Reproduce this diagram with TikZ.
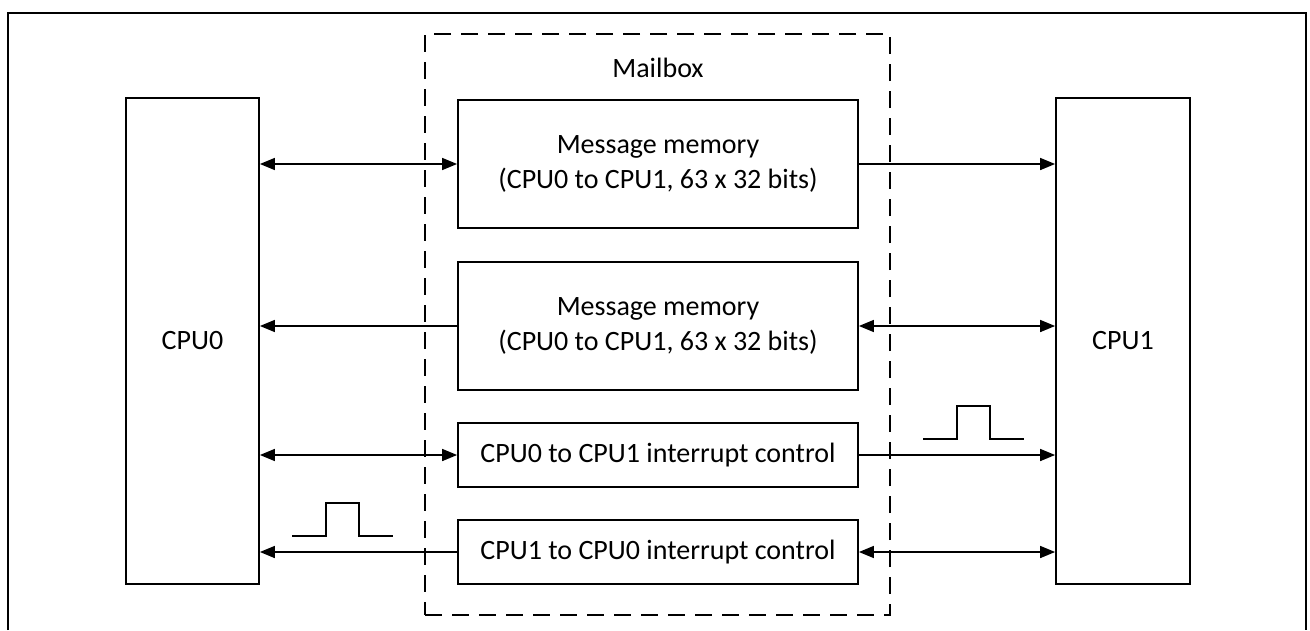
\documentclass[tikz,border=0pt]{standalone}
\usepackage{fontspec}
\setmainfont{Carlito}
\usetikzlibrary{arrows.meta}
\tikzset{
  blk/.style={draw, line width=1.8pt, rectangle, inner sep=0pt, align=center, font=\fontsize{28}{35}\selectfont},
  mbox/.style={draw, line width=1.8pt, dash pattern=on 17pt off 10pt, rectangle, inner sep=0pt},
  conn/.style={line width=1.6pt, arrows={-}, >={Triangle[length=15pt,width=12pt]}},
  pulse/.style={line width=1.8pt},
  frame/.style={line width=2.2pt}
}
\begin{document}
\begin{tikzpicture}[x=1pt,y=-1pt]
\useasboundingbox (0,0) rectangle (1310,630);
% outer frame (open at bottom)
\draw[frame] (8,630) -- (8,13) -- (1306,13) -- (1306,630);
% mailbox
\node[mbox, minimum width=465pt, minimum height=581pt] (mb) at (657.5,324.5) {};
\node[font=\fontsize{28}{35}\selectfont] (mblabel) at (658,68) {Mailbox};
% CPUs
\node[blk, minimum width=133pt, minimum height=486pt] (cpu0) at (192.5,341) {CPU0};
\node[blk, minimum width=134pt, minimum height=486pt] (cpu1) at (1123,341) {CPU1};
% blocks
\node[blk, minimum width=400pt, minimum height=128pt] (mm1) at (658,164) {Message memory\\(CPU0 to CPU1, 63 x 32 bits)};
\node[blk, minimum width=400pt, minimum height=128pt] (mm2) at (658,326) {Message memory\\(CPU0 to CPU1, 63 x 32 bits)};
\node[blk, minimum width=400pt, minimum height=64pt] (int1) at (658,455) {CPU0 to CPU1 interrupt control};
\node[blk, minimum width=400pt, minimum height=64pt] (int2) at (658,552) {CPU1 to CPU0 interrupt control};
% connectors
\draw[conn,<->] (cpu0.east |- mm1.west) -- (mm1.west);
\draw[conn,->] (mm1.east) -- (cpu1.west |- mm1.east);
\draw[conn,->] (mm2.west) -- (cpu0.east |- mm2.west);
\draw[conn,<->] (cpu1.west |- mm2.east) -- (mm2.east);
\draw[conn,<->] (cpu0.east |- int1.west) -- (int1.west);
\draw[conn,->] (int1.east) -- (cpu1.west |- int1.east);
\draw[conn,->] (int2.west) -- (cpu0.east |- int2.west);
\draw[conn,<->] (cpu1.west |- int2.east) -- (int2.east);
% pulses
\draw[pulse] (292,536) -- (326,536) -- (326,503) -- (359,503) -- (359,536) -- (393,536);
\draw[pulse] (923,439) -- (957,439) -- (957,406) -- (990,406) -- (990,439) -- (1024,439);
\end{tikzpicture}
\end{document}
